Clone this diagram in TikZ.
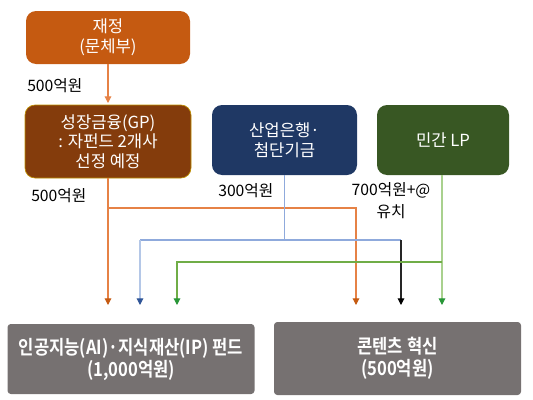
\documentclass[tikz,border=0pt]{standalone}
\usepackage{fontspec}
\usetikzlibrary{arrows.meta}
\newfontfamily\kr{Noto Sans CJK KR}
\newfontfamily\krb[FakeStretch=0.86]{Noto Sans CJK KR Bold}
\definecolor{cOrange}{RGB}{197,90,17}
\definecolor{cBrown}{RGB}{132,60,12}
\definecolor{cNavy}{RGB}{31,56,100}
\definecolor{cGreenBox}{RGB}{56,87,35}
\definecolor{cGray}{RGB}{118,113,113}
\definecolor{lOrange}{RGB}{230,130,70}
\definecolor{lBlue}{RGB}{143,170,220}
\definecolor{lBlueL}{RGB}{180,199,231}
\definecolor{tBlue}{RGB}{47,85,151}
\definecolor{lGreen}{RGB}{112,173,71}
\definecolor{lGreenL}{RGB}{169,209,142}
\definecolor{tGreen}{RGB}{40,150,55}
\definecolor{cEdge}{RGB}{191,144,0}
\tikzset{
  topbox/.style={rounded corners=7.5pt, text=white, align=center, inner sep=0pt,
    font=\kr\fontsize{12.5pt}{14.8pt}\selectfont},
  botbox/.style={rounded corners=2.5pt, fill=cGray, text=white, align=center, inner sep=0pt,
    font=\krb\fontsize{14.5pt}{16.5pt}\selectfont},
  lbl/.style={inner sep=0pt, align=center, font=\kr\fontsize{11.8pt}{17pt}\selectfont},
  tip/.style={-{Triangle[width=5pt,length=5pt,color=#1]}},
  ln/.style={line width=0.8pt}
}
\begin{document}
\begin{tikzpicture}[x=0.75pt,y=-0.75pt]
\useasboundingbox (0,0) rectangle (533,400);
% boxes
\node[topbox, fill=cOrange, minimum width=164*0.75pt, minimum height=53*0.75pt] (fin) at (108,37.5) {재정\\(문체부)};
\node[topbox, fill=cBrown, draw=cEdge, line width=0.5pt, minimum width=166*0.75pt, minimum height=73*0.75pt] (gp) at (108,141.5) {성장금융(GP)\\: 자펀드 2개사\\선정 예정};
\node[topbox, fill=cNavy, minimum width=145*0.75pt, minimum height=70*0.75pt] (kdb) at (284.5,140) {산업은행·\\첨단기금};
\node[topbox, fill=cGreenBox, minimum width=132*0.75pt, minimum height=70*0.75pt] (lp) at (443,140) {민간 LP};
\node[botbox, minimum width=247*0.75pt, minimum height=70*0.75pt] (ai) at (131,359) {인공지능(AI)·지식재산(IP) 펀드\\(1,000억원)};
\node[botbox, minimum width=247*0.75pt, minimum height=73*0.75pt] (ct) at (397.5,358.5) {콘텐츠 혁신\\(500억원)};
% labels
\node[lbl, anchor=west] (l1) at (27,86) {500억원};
\node[lbl, anchor=west] (l2) at (31,196) {500억원};
\node[lbl, anchor=west] (l3) at (218,191) {300억원};
\node[lbl] (l4) at (391,200.5) {700억원+@\\유치};
% coordinates
\coordinate (finEnd) at (108,103);
\coordinate (oJ) at (108,208);
\coordinate (oR) at (356,208);
\coordinate (oA1) at (108,305);
\coordinate (oA2) at (356,305);
\coordinate (bJ) at (284.5,240);
\coordinate (bL) at (140,240);
\coordinate (bR) at (401,240);
\coordinate (bA1) at (140,305);
\coordinate (bA2) at (401,305);
\coordinate (gJ) at (442,262);
\coordinate (gL) at (177,262);
\coordinate (gA1) at (177,305);
\coordinate (gA2) at (442,305);
% connectors
\draw[ln, lOrange, tip=lOrange] (fin.south) -- (finEnd);
\draw[ln, lOrange, tip=cOrange] (gp.south) -- (oA1);
\draw[ln, lOrange, tip=cOrange] (oJ) -- (oR) -- (oA2);
\draw[ln, lBlue] (kdb.south) -- (bJ);
\draw[ln, lBlue] (bL) -- (bR);
\draw[ln, lBlueL, tip=tBlue] (bL) -- (bA1);
\draw[ln, black!85, tip=black] (bR) -- (bA2);
\draw[ln, lGreenL, tip=tGreen] (lp.south -| gJ) -- (gA2);
\draw[ln, lGreen, tip=tGreen] (gJ) -- (gL) -- (gA1);
\end{tikzpicture}
\end{document}
